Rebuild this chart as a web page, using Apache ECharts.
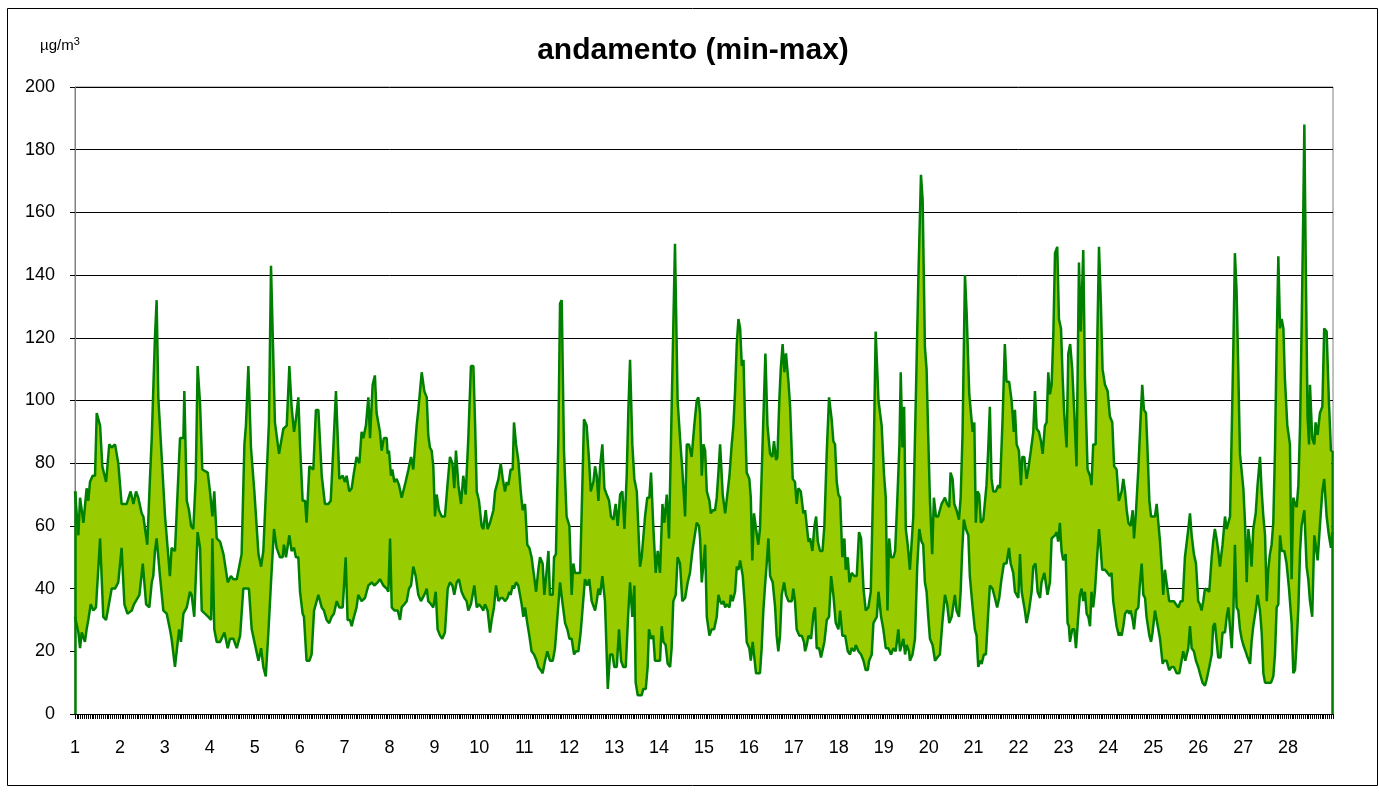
<!DOCTYPE html>
<html><head><meta charset="utf-8">
<script src="https://cdn.jsdelivr.net/npm/echarts@6/dist/echarts.min.js"></script>
<style>html,body{margin:0;padding:0;background:#fff;}#c{width:1379px;height:794px;}</style>
</head><body><div id="c"></div>
<script>
// day labels on the x axis (each day = 24 hourly readings)
const dayLabels = ["1","2","3","4","5","6","7","8","9","10","11","12","13","14","15","16","17","18","19","20","21","22","23","24","25","26","27","28"];
const yTicks = [0,20,40,60,80,100,120,140,160,180,200];
// [hour, µg/m³] readings of the hourly maximum
const maxReadings = [
[0,71],[1.8,57],[2.7,69],[4.5,61],[6.2,72],[7.1,68],[8,74],[9.4,76],[10.7,76],[11.6,96],[13.4,92],[14.6,79],[16.6,74],[18.3,86],[19.6,85],[21.4,86],[23.1,80],[24.9,67],[27.6,67],[29.7,71],[31.2,67],[32.6,71],[33.8,69],[35.6,64],[36.5,63],[38.6,54],[40.1,76],[41,88],[42.7,120],[43.6,132],[44.5,101],[46.3,82],[48.1,63],[49,63],[50.7,44],[51.6,53],
[53.4,52],[56.1,88],[57.9,88],[58.4,103],[59.7,68],[60.9,65],[62,60],[63.2,59],[64.5,75],[65.5,111],[66.8,99],[68,78],[70.9,77],[72.1,71],[73.4,63],[74.4,71],[75.7,56],[77.5,55],[79.3,51],[81.6,42],[83.3,44],[84.6,43],[86.4,43],[89,51],[90.5,86],[91.3,92],[92.6,111],[94,85],[95.8,71],[98,51],[99.4,47],[100.6,52],[101.5,52],[103.6,93],[104.7,143],[106.8,93],[109,83],
[111.3,91],[113.1,92],[114.5,111],[115.7,98],[117,90],[118,94],[119.3,101],[120.2,86],[121.6,68],[122.9,68],[123.7,61],[125.2,79],[127.3,78],[128.7,97],[130,97],[131.8,76],[133.5,67],[135.3,67],[136.6,68],[138,85],[139.4,103],[141.2,75],[143,76],[144.2,74],[145.1,76],[146.5,71],[147.8,72],[149,77],[150.4,82],[151.9,80],[153.1,90],[154,88],[155.4,92],[156.7,101],[157.6,88],[159,105],[160.2,108],[161.1,96],[162.9,90],[163.8,84],[165,88],
[166.5,88],[167,83],[167.7,84],[168.8,76],[169.5,78],[170.6,74],[171.8,75],[173.1,73],[174.5,69],[175.4,69],[176.6,74],[178.1,78],[179.5,82],[180.7,78],[181.6,78],[182.5,92],[183.4,97],[184.3,97],[185.2,109],[186.6,103],[187.9,101],[188.7,89],[189.6,85],[190.5,84],[191.4,79],[192.3,63],[193.2,70],[194.4,65],[195.9,63],[197.6,63],[199.1,74],[200.3,82],[201.6,80],[202.6,72],[203.5,84],[204.8,73],[206.2,67],[207.4,76],[208.7,70],[210.1,88],[211.5,111],[212.8,111],[213.7,93],[214.6,71],[215.8,68],[217.2,60],[218.1,59],[219.4,65],[220.4,59],
[221.7,61],[223.5,65],[224.4,71],[226.2,75],[227.4,80],[228.5,75],[229.7,71],[230.6,74],[231.5,73],[232.7,78],[233.8,78],[234.5,93],[235.6,86],[236.8,81],[238.1,71],[239.1,65],[240.4,67],[241.6,54],[242.7,53],[243.9,50],[244.8,50],[246.3,39],[247.5,46],[248.4,50],[249.8,48],[250.7,38],[252,46],[252.9,52],[253.7,38],[255.2,38],[255.9,50],[256.9,51],[258.2,88],[259.1,131],[260,132],[261.2,84],[262.6,63],[264.1,60],[265.3,38],[266.2,48],[267.1,45],[268.3,45],[269.8,45],[270.6,63],[271.9,94],[273.3,92],[274.6,81],[275.5,71],[276.9,74],
[277.8,79],[278.7,76],[279.6,68],[280.5,79],[281.7,86],[282.8,72],[284,70],[285.3,68],[286.3,63],[287.6,62],[288.8,67],[289.9,60],[291.2,70],[292.4,71],[293.5,59],[294.7,76],[295.6,97],[296.5,113],[297.7,86],[298.8,75],[300.1,71],[301.8,47],[302.7,50],[303.6,50],[304.5,63],[305.7,69],[306.8,69],[307.7,77],[308.9,60],[310.2,45],[311.3,52],[312.5,45],[313.8,67],[314.8,61],[316.1,70],[317.3,56],[318.7,97],[320.5,150],[321.9,100],[323.2,88],[324.4,78],[325.9,63],[326.8,86],[328,86],[329.4,82],[330.8,92],[332.1,100],[333,101],
[333.9,96],[334.8,76],[335.7,86],[336.6,84],[337.5,71],[338.9,68],[339.6,64],[340.7,65],[341.9,65],[342.8,69],[343.7,77],[344.6,86],[346,70],[347.3,64],[348.1,64],[349.6,76],[350.8,86],[351.7,92],[352.6,103],[353.5,118],[354.4,126],[355.3,123],[356.2,111],[357.1,113],[357.9,94],[358.8,77],[360.2,75],[361,69],[361.8,49],[362.7,64],[363.8,59],[365,54],[365.9,59],[366.8,59],[367.7,94],[368.8,115],[369.9,92],[371.3,83],[372.5,82],[373.4,87],[374.5,81],[375.2,82],[376.3,101],[377,110],[378,118],[378.9,109],[379.8,115],[381.1,106],[382,98],[383.4,75],[384.6,74],[385.5,67],[386.4,72],[387.7,71],[389.1,64],
[390,65],[390.9,60],[391.8,55],[392.7,56],[393.9,52],[395,60],[395.9,63],[396.8,55],[398,52],[399.3,52],[400.3,60],[401.6,84],[402.8,101],[404.2,94],[405.1,87],[406,86],[406.9,74],[407.8,70],[408.7,69],[409.9,50],[411,56],[411.7,46],[412.8,50],[413.7,42],[414.9,45],[416.3,44],[417.6,44],[418.8,58],[419.9,56],[421.2,40],[422.4,33],[423.8,34],[425.1,39],[426.5,77],[427.7,122],[429.2,100],[430.9,92],[432.2,76],[433.1,69],[434,33],[434.9,56],[435.9,50],[437.2,50],[438.1,52],[439.3,69],[440.4,86],[441.1,109],[442,85],[442.9,98],[443.8,59],[444.8,54],
[446,46],[447.8,63],[449.2,102],[450.5,139],[451.9,172],[452.8,164],[454,117],[454.9,110],[455.8,88],[456.7,68],[457.9,51],[458.8,69],[459.9,63],[461.1,63],[462.9,67],[463.8,68],[464.7,69],[465.9,67],[467,66],[467.7,77],[468.8,75],[469.7,67],[470.9,65],[472.2,62],[473.1,69],[474.1,89],[475.4,140],[476.3,128],[477.7,102],[478.6,96],[479.5,90],[480.4,93],[481.2,61],[482.1,71],[483,70],[483.9,61],[485.2,62],[486.9,73],[487.8,84],[488.7,98],[489.6,75],[490.5,71],[491.9,71],[493.2,73],[494.1,72],[495.5,94],[496.7,118],[497.6,106],[499,106],[500.3,100],[501.5,90],
[502.1,97],[503,86],[504.2,84],[505.3,73],[506,82],[507.1,82],[508.3,75],[509.2,78],[510.6,84],[511.9,90],[512.8,103],[513.7,91],[514.9,90],[516,87],[516.9,83],[518.1,92],[519,93],[519.9,109],[520.8,102],[521.7,105],[522.6,121],[523.5,147],[524.7,149],[525.6,126],[526.7,123],[527.6,107],[528.4,96],[529.7,85],[530.6,115],[531.6,118],[532.7,110],[533.8,96],[535,79],[536.3,144],[537.3,122],[538.6,148],[539.5,107],[540.9,78],[542.2,76],[543,73],[543.9,86],[545.2,86],[546.2,123],[547,149],[548,131],[548.9,110],[550.2,105],[551.6,103],[552.8,95],[554.1,93],[555.1,79],[556.4,78],[557.6,68],
[558.2,68],[559.1,71],[560,75],[560.9,71],[561.8,65],[562.7,61],[563.9,60],[565,65],[565.7,56],[566.7,64],[568,78],[569.2,94],[570.1,105],[571,97],[572.1,96],[572.8,86],[573.9,68],[574.8,63],[575.6,63],[576.9,63],[577.8,67],[578.7,61],[579.6,55],[580.5,47],[581.3,38],[582.2,46],[583.1,42],[584.5,36],[585.8,36],[587,36],[588.1,35],[589.4,34],[590.6,36],[591.7,36],[592.9,50],[593.8,50],[594.7,59],[595.6,64],[596.5,57],[597.7,51],[598.8,48],[600,36],[600.9,35],[601.8,33],[602.7,36],[603.6,40],[604.5,40],[605.9,39],[607.2,50],[608,55],[608.9,59],[609.8,56],[610.7,52],[611.6,47],[613,54],
[614.3,63],[615.2,59],[616.1,59],[617,63],[617.9,90],[618.8,118],[619.6,147],[620.5,135],[621.4,110],[622.3,83],[623.2,83],[624.1,72],[625,61],[625.9,42],[626.8,59],[627.7,54],[628.5,47],[629.4,59],[630.7,64],[631.7,73],[633,82],[633.9,71],[634.8,63],[635.7,57],[636.6,36],[637.4,46],[638.3,51],[639.2,54],[640.1,61],[641,84],[641.9,118],[642.8,146],[643.7,123],[644.6,126],[645.5,123],[646.3,107],[647.6,92],[649,86],[649.9,43],[650.8,69],[651.7,67],[652.6,66],[653.5,73],[654.4,92],[655.2,122],[656.1,159],[656.7,188],[657.4,146],[658.4,95],[659.2,86],[659.7,105],[660.9,88],[662,86],[662.7,93],[663.8,89],[665,96],[666.3,98],[667.3,123],[668.6,122],[669.8,100],[670.9,84],[671.6,84]
];
// [hour, µg/m³] readings of the hourly minimum
const minReadings = [
[0,31],[1.8,26],[2.7,21],[3.6,26],[5.3,23],[6.2,27],[7.1,30],[8.4,35],[9.8,33],[11.2,34],[13.4,56],[15.1,31],[16.6,30],[17.8,34],[19.6,40],[21.4,40],[23.1,42],[24.9,53],[26.4,35],[28,32],[30.3,33],[31.5,35],[34.4,38],[36.2,48],[38,35],[39.7,34],[41,42],[41.8,44],[42.7,52],[43.6,56],[45.4,44],[47.2,33],[49,32],[50.7,27],[51.6,24],
[53.4,15],[54.3,15],[55.6,27],[56.6,23],[57.9,32],[59.7,34],[61.4,39],[62.3,38],[63.7,31],[65.5,58],[66.8,53],[67.7,33],[69.4,32],[71.2,31],[72.7,30],[73.4,56],[74.4,27],[75.7,23],[77.5,23],[79.8,26],[81.6,21],[82.8,24],[84.6,24],[86.4,21],[88.2,25],[89.9,40],[91.7,40],[92.9,40],[94.4,27],[96.2,22],[98,17],[99.4,21],[100.6,15],[101.9,12],[103.3,26],[104.7,42],[106.3,59],[107.7,53],[109.5,50],
[110.9,50],[111.6,54],[112.7,50],[113.4,50],[114.5,57],[115.7,52],[117,53],[118,50],[119.3,50],[120.2,39],[121.6,32],[122.3,31],[123.7,17],[125.2,17],[126.4,19],[127.7,33],[128.7,33],[130,38],[130.9,38],[131.8,34],[133,33],[134.4,30],[135.8,29],[137.1,31],[138.3,32],[139.8,36],[141.2,34],[143,34],[144.6,50],[145.6,30],[146.9,30],[147.8,28],[149,31],[150.4,34],[151.3,38],[153.1,36],[154.9,37],[156.7,41],[158.5,42],[159.9,41],[161.7,42],[162.9,43],[164.7,41],
[166.5,40],[167.4,39],[168.3,56],[169.2,34],[170.6,33],[172.4,33],[173.6,30],[174.5,34],[175.9,35],[177.2,36],[178.4,40],[179.5,41],[180.7,47],[182,44],[183.4,38],[184.8,36],[186.6,38],[187.9,40],[188.7,36],[190.2,35],[191.4,34],[192.7,39],[193.7,27],[195,25],[196.2,24],[197.6,26],[199.1,40],[200.3,42],[201.6,41],[202.6,38],[203.9,42],[205.1,43],[206.5,39],[208,37],[209.2,36],[210.1,33],[211.5,35],[213.3,41],[214.6,34],[215.8,35],[217.2,34],[218.1,33],[219,35],[220.4,33],
[221.7,26],[222.6,30],[223.8,34],[224.9,41],[226.2,36],[227.4,37],[228.5,37],[229.7,36],[231,37],[232,39],[232.7,38],[233.8,41],[234.5,40],[235.6,42],[236.8,41],[237.7,38],[238.6,35],[239.5,31],[240.4,34],[241.6,29],[242.7,25],[243.9,20],[245.2,19],[246.6,17],[247.5,15],[248.8,14],[249.8,13],[251.1,17],[252.3,20],[253.7,17],[255.2,17],[256.4,21],[257.7,31],[259.1,42],[260.5,35],[261.8,29],[263,27],[264.1,24],[265.3,24],[266.6,19],[267.6,20],[268.9,20],[270.1,26],[271.2,34],[272.4,43],[273.7,41],[274.7,43],[276,36],[277.2,34],
[277.8,33],[278.7,36],[279.6,40],[280.5,38],[281.7,44],[283.1,36],[284.6,8],[285.8,19],[287.1,19],[288.1,15],[289.4,15],[290.6,27],[291.7,17],[292.9,15],[294.2,15],[295.6,33],[296.5,42],[297.7,31],[298.8,41],[299.5,10],[300.6,6],[302.7,6],[303.6,8],[304.9,8],[305.9,15],[306.6,27],[307.7,24],[308.9,25],[309.8,17],[311.3,17],[312.5,17],[313.4,28],[314.3,23],[315.5,22],[316.6,16],[317.9,15],[318.7,21],[319.6,36],[320.9,38],[321.9,50],[323.2,48],[324.4,36],[325.9,37],[327.3,42],[328.5,45],[329.8,52],[330.8,52],[332.1,61],[333.3,60],
[333.9,56],[334.8,42],[335.7,48],[336.6,54],[337.5,31],[338.9,25],[340.1,27],[341.4,27],[342.8,31],[343.7,38],[344.6,36],[345.5,35],[346.4,36],[347.3,34],[348.1,35],[349.6,34],[350.3,38],[351.3,36],[352.6,39],[353.5,47],[354.4,46],[355.3,49],[356.7,44],[357.9,34],[358.8,23],[360.2,21],[361,17],[362,23],[362.7,19],[363.8,13],[364.5,13],[365.9,13],[366.8,21],[367.7,33],[368.6,41],[369.5,48],[370.4,56],[371.3,44],[372.7,42],[374,34],[374.8,25],[375.7,20],[376.6,25],[377.5,38],[378.8,42],[379.8,38],[381.1,36],[382.9,36],[383.7,40],[384.6,36],[385.5,27],[386.9,25],[388.2,25],[389.4,23],
[390,20],[390.9,22],[391.8,25],[393.2,24],[394.5,32],[395.3,34],[396.2,21],[397.5,21],[398.5,18],[399.3,18],[400.3,23],[401.6,30],[402.8,31],[403.9,44],[405.1,38],[406.4,29],[407.8,27],[408.7,33],[409.9,25],[411.4,25],[412.8,20],[414,19],[414.9,21],[416.3,20],[417.1,22],[418.5,20],[419.9,19],[421.2,17],[422.4,14],[423.5,14],[424.2,17],[425.6,19],[426.5,29],[427.4,30],[428.3,31],[429.2,39],[430.6,31],[431.8,27],[433.1,21],[434.5,21],[435.9,19],[437.2,21],[438.4,20],[439.8,27],[440.7,20],[441.6,20],[442.5,24],[443.4,19],[444.3,22],[445.5,20],
[446,17],[447.4,19],[448.7,24],[449.9,47],[451,59],[452.2,55],[453.1,54],[454,42],[454.9,39],[455.8,31],[456.7,24],[458.1,22],[459.4,17],[460.6,18],[462,19],[463.3,29],[464.7,38],[465.9,35],[467,29],[468.3,31],[469.1,31],[470,38],[470.9,33],[472.2,31],[473.1,39],[473.9,52],[474.8,62],[475.9,59],[477.2,57],[478,44],[479.5,34],[480.7,27],[481.6,25],[482.5,15],[483.4,17],[484.3,16],[485.5,19],[486.6,19],[487.5,29],[488.7,41],[490.1,40],[491.4,37],[492.6,34],[493.7,37],[494.9,43],[496.2,48],[497.6,48],[498.9,53],[499.8,48],[501.2,45],
[502.1,39],[503,38],[503.9,37],[504.8,51],[505.7,39],[506.6,39],[507.4,33],[508.3,29],[509.6,33],[511,39],[511.9,47],[513.1,48],[514.2,39],[515.5,37],[516.3,42],[517.8,45],[518.5,45],[519.5,38],[520.8,42],[521.7,56],[523.5,57],[524.4,58],[525.2,55],[526.1,61],[527,52],[527.9,49],[529.2,51],[530.2,29],[530.9,28],[531.5,23],[532.7,27],[533.8,27],[534.7,21],[535.9,31],[536.8,38],[537.7,40],[538.6,36],[539.5,39],[540.4,32],[541.3,31],[542.2,28],[543,39],[543.9,34],[544.8,39],[546.2,52],[547,59],[548,52],[548.7,46],[550.2,46],[551.6,45],[552.8,44],[553.7,45],[554.6,36],[555.5,36],[556.4,28],[557.6,25],
[558.2,26],[559.1,25],[560,28],[560.9,32],[562.1,33],[563.2,32],[563.9,33],[565,30],[565.7,27],[566.7,33],[568,34],[568.9,42],[569.8,48],[570.7,38],[571.6,37],[572.4,31],[573.9,25],[574.8,23],[575.6,26],[576.9,33],[578.1,29],[579.6,24],[581,16],[581.7,17],[583.1,17],[584.5,14],[585.8,15],[587,15],[588.5,13],[589.9,13],[591.1,17],[592,20],[593.1,17],[594.7,21],[595.6,28],[596.5,21],[597.7,20],[598.8,17],[600,15],[600.9,13],[602.3,10],[603.6,9],[604.5,11],[605.9,15],[607.2,19],[608,28],[608.9,29],[609.8,29],[610.7,18],[611.9,18],[613,26],
[614.3,26],[615.2,31],[616.1,34],[617,34],[617.9,21],[618.8,33],[619.6,54],[620.5,34],[621.4,33],[622.3,27],[623.2,24],[624.1,22],[625.3,20],[626.4,18],[627.7,16],[628.5,23],[629.4,28],[630.7,33],[631.7,38],[633,33],[633.9,26],[634.8,13],[635.7,10],[637.4,10],[638.9,10],[640.1,12],[641,19],[641.9,34],[642.8,35],[643.7,57],[644.6,52],[646,52],[647.2,48],[648.5,40],[649.9,29],[650.8,13],[651.7,14],[652.6,23],[653.5,34],[654.4,52],[655.2,60],[656.7,65],[657.9,47],[658.8,43],[659.7,36],[660.9,31],[662,57],[662.7,54],[663.8,49],[665,60],[666.3,71],[667.3,75],[668.6,63],[669.8,57],[670.9,53],[671.6,58]
];

const FONT = "'Liberation Sans', Arial, sans-serif";
const GREEN = '#008000';
const hoursPerDay = 24;
const firstMax = maxReadings[0];
const lastMax = maxReadings[maxReadings.length - 1];

const chart = echarts.init(document.getElementById('c'), null, {renderer: 'canvas'});
chart.setOption({
  animation: false,
  backgroundColor: '#ffffff',
  title: {
    text: 'andamento (min-max)',
    left: 688, top: 31, textAlign: 'center',
    textStyle: {fontFamily: FONT, fontWeight: 'bold', fontSize: 30, color: '#000'}
  },
  graphic: [
    {type: 'rect', shape: {x: 7.5, y: 8.5, width: 1370, height: 777}, style: {fill: 'none', stroke: '#000', lineWidth: 1}, z: 10, silent: true},
    {type: 'text', left: 40, top: 36, style: {text: '{u|µg/m}{s|3}', rich: {u: {fontFamily: FONT, fontSize: 15, fill: '#000'}, s: {fontFamily: FONT, fontSize: 11, fill: '#000', verticalAlign: 'top', padding: [0, 0, 8, 0]}}}}
  ],
  grid: {left: 75, right: 46, top: 87, bottom: 80, show: true, borderColor: '#808080', borderWidth: 1, backgroundColor: '#fff', containLabel: false},
  xAxis: {
    type: 'value', min: 0, max: dayLabels.length * hoursPerDay, interval: hoursPerDay, z: 3,
    axisLine: {show: true, onZero: false, lineStyle: {color: '#000', width: 1}},
    axisTick: {show: true, length: 5, lineStyle: {color: '#000', width: 1}},
    minorTick: {show: true, splitNumber: hoursPerDay, length: 5, lineStyle: {color: '#000', width: 1}},
    splitLine: {show: false},
    axisLabel: {margin: 25, fontFamily: FONT, fontSize: 18, color: '#000',
      formatter: v => { const i = Math.round(v / hoursPerDay); return (i < dayLabels.length) ? dayLabels[i] : ''; }}
  },
  yAxis: {
    type: 'value', min: yTicks[0], max: yTicks[yTicks.length - 1], interval: yTicks[1] - yTicks[0], z: 3,
    axisLine: {show: true, lineStyle: {color: '#808080', width: 1}},
    axisTick: {show: true, length: 5, lineStyle: {color: '#000'}},
    splitLine: {show: true, lineStyle: {color: '#000', width: 1}},
    axisLabel: {margin: 20, fontFamily: FONT, fontSize: 18, color: '#000'}
  },
  series: [
    {
      name: 'max', type: 'line', data: maxReadings, symbol: 'none', smooth: false,
      lineStyle: {color: GREEN, width: 2.5}, areaStyle: {color: '#99CC00', opacity: 1},
      markLine: {
        silent: true, symbol: ['none', 'none'], label: {show: false},
        lineStyle: {color: GREEN, width: 2.5, type: 'solid'},
        data: [
          [{coord: [firstMax[0], 0]}, {coord: [firstMax[0], firstMax[1]]}],
          [{coord: [lastMax[0], 0]}, {coord: [lastMax[0], lastMax[1]]}]
        ]
      }
    },
    {
      name: 'min', type: 'line', data: minReadings, symbol: 'none', smooth: false,
      lineStyle: {color: GREEN, width: 2.5}, areaStyle: {color: '#ffffff', opacity: 1}
    }
  ]
});
</script>
</body></html>
